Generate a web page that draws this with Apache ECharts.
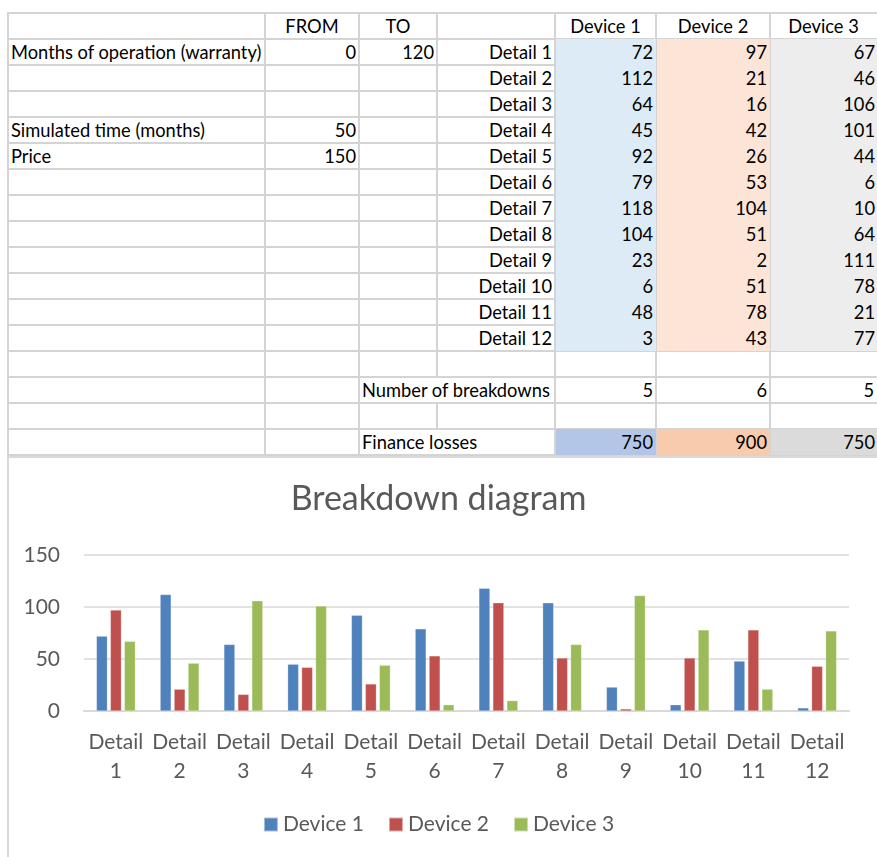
<!DOCTYPE html>
<html>
<head>
<meta charset="utf-8">
<script src="https://cdn.jsdelivr.net/npm/echarts@6/dist/echarts.min.js"></script>
<style>
  body { margin: 0; background: #fff; font-family: Lato, "Open Sans", sans-serif; }
  #sheet { position: absolute; left: 0; top: 0; width: 877px; height: 857px; overflow: hidden; }
  .cell { position: absolute; box-sizing: border-box; font-size: 18.3px; color: #000;
          line-height: 26px; padding: 0 3px; white-space: nowrap; overflow: visible; }
  .ln { position: absolute; background: #d4d4d4; }
  #chart { position: absolute; left: 0; top: 455px; width: 877px; height: 402px; }
</style>
</head>
<body>
<div id="sheet"></div>
<div id="chart"></div>
<script>
// sheet data
var categories = ['Detail 1','Detail 2','Detail 3','Detail 4','Detail 5','Detail 6',
                  'Detail 7','Detail 8','Detail 9','Detail 10','Detail 11','Detail 12'];
var device1 = [72, 112, 64, 45, 92, 79, 118, 104, 23, 6, 48, 3];
var device2 = [97, 21, 16, 42, 26, 53, 104, 51, 2, 51, 78, 43];
var device3 = [67, 46, 106, 101, 44, 6, 10, 64, 111, 78, 21, 77];
var deviceNames = ['Device 1', 'Device 2', 'Device 3'];
var breakdowns = [5, 6, 5];
var losses = [750, 900, 750];
var yTicks = [0, 50, 100, 150];

var colX = [8, 265, 359, 437, 555, 656, 770, 877];
var rowTop = 13, rowH = 26, nRows = 17;
var fills = ['#ddebf7', '#fce4d6', '#ededed'];
var fillsTotal = ['#b4c6e7', '#f8cbad', '#dbdbdb'];

var sheet = document.getElementById('sheet');
function add(cls, css, text) {
  var d = document.createElement('div');
  d.className = cls;
  d.style.cssText = css;
  if (text !== undefined) d.textContent = text;
  sheet.appendChild(d);
  return d;
}
function cellBox(c, r, span) {
  var x0 = colX[c], x1 = colX[c + (span || 1)];
  return 'left:' + x0 + 'px;top:' + (rowTop + r * rowH) + 'px;width:' + (x1 - x0) + 'px;height:' + rowH + 'px;';
}

// grid lines (horizontal then vertical), colored cells go on top
for (var r = 0; r <= nRows; r++) {
  add('ln', 'left:' + colX[0] + 'px;top:' + (rowTop + r * rowH - 1) + 'px;width:' + (877 - colX[0]) + 'px;height:2px;');
}
for (var c = 0; c < colX.length - 1; c++) {
  add('ln', 'left:' + (colX[c] - 1) + 'px;top:' + (rowTop - 1) + 'px;width:2px;height:' + (nRows * rowH + 2) + 'px;');
}
// cover the split between C and D on the spill rows
[14, 16].forEach(function (r) {
  add('cell', 'left:' + (colX[3] - 1) + 'px;top:' + (rowTop + r * rowH + 1) + 'px;width:3px;height:' + (rowH - 2) + 'px;background:#fff;');
});

function text(c, r, t, align, span) {
  add('cell', cellBox(c, r, span) + 'text-align:' + align + ';', t);
}
function filled(c, r, t, color) {
  var x1 = colX[c + 1] === 877 ? 880 : colX[c + 1];
  add('cell', 'left:' + (colX[c] + 1) + 'px;top:' + (rowTop + r * rowH) + 'px;width:' + (x1 - colX[c] - 1) +
      'px;height:' + rowH + 'px;background:' + color + ';text-align:right;' +
      (x1 === 880 ? 'padding-right:5px;' : ''), t);
}

text(1, 0, 'FROM', 'center');
text(2, 0, 'TO', 'center');
deviceNames.forEach(function (n, i) { text(4 + i, 0, n, 'center'); });
text(0, 1, 'Months of operation (warranty)', 'left');
text(1, 1, '0', 'right');
text(2, 1, '120', 'right');
text(0, 4, 'Simulated time (months)', 'left');
text(1, 4, '50', 'right');
text(0, 5, 'Price', 'left');
text(1, 5, '150', 'right');
var devices = [device1, device2, device3];
categories.forEach(function (cat, i) {
  text(3, i + 1, cat, 'right');
  devices.forEach(function (d, k) { filled(4 + k, i + 1, d[i], fills[k]); });
});
text(2, 14, 'Number of breakdowns', 'left', 2);
breakdowns.forEach(function (v, k) { text(4 + k, 14, v, 'right'); });
text(2, 16, 'Finance losses', 'left', 2);
losses.forEach(function (v, k) { filled(4 + k, 16, v, fillsTotal[k]); });

// chart frame
add('ln', 'left:8px;top:456px;width:869px;height:2px;background:#d9d9d9;');
add('ln', 'left:7px;top:456px;width:2px;height:401px;background:#d9d9d9;');

var chart = echarts.init(document.getElementById('chart'));
var colors = ['#4f81bd', '#c0504d', '#9bbb59'];
var font = 'Lato, "Open Sans", sans-serif';

var option = {
  animation: false,
  color: colors,
  title: {
    text: 'Breakdown diagram',
    left: 'center',
    top: 22,
    textStyle: { fontFamily: font, fontSize: 34, fontWeight: 'normal', color: '#595959' }
  },
  legend: {
    bottom: 17,
    left: 'center',
    icon: 'rect',
    itemWidth: 14,
    itemHeight: 14,
    itemGap: 24,
    textStyle: { fontFamily: font, fontSize: 21, color: '#595959' },
    data: deviceNames
  },
  grid: { left: 84, right: 28, top: 100, bottom: 146 },
  xAxis: {
    type: 'category',
    data: categories,
    axisLine: { lineStyle: { color: '#d9d9d9', width: 2 } },
    axisTick: { show: false },
    axisLabel: {
      interval: 0,
      margin: 17,
      fontFamily: font,
      fontSize: 21,
      lineHeight: 29,
      color: '#595959',
      formatter: function (v) { return v.replace(' ', '\n'); }
    }
  },
  yAxis: {
    type: 'value',
    min: yTicks[0],
    max: yTicks[yTicks.length - 1],
    interval: 50,
    axisLine: { show: false },
    axisTick: { show: false },
    splitLine: { lineStyle: { color: '#d9d9d9', width: 1.5 } },
    axisLabel: { margin: 24, fontFamily: font, fontSize: 21, color: '#595959' }
  },
  series: devices.map(function (d, k) {
    return {
      name: deviceNames[k],
      type: 'bar',
      data: d,
      barWidth: 11,
      barGap: '27%',
      itemStyle: { borderColor: 'rgba(255,255,255,0.5)', borderWidth: 0.5 }
    };
  })
};
chart.setOption(option);
</script>
</body>
</html>
